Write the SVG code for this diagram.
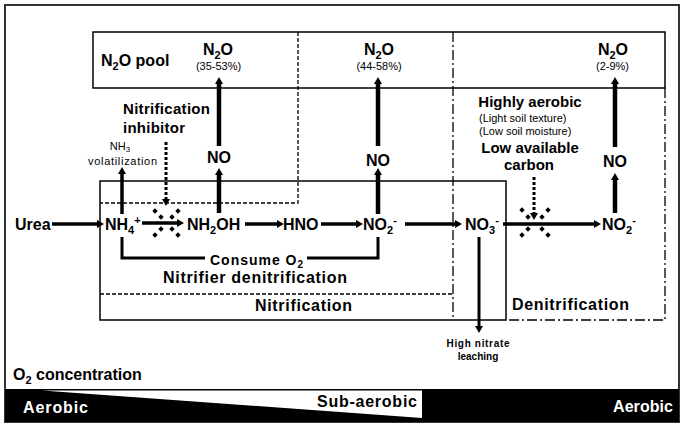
<svg xmlns="http://www.w3.org/2000/svg" width="685" height="428" viewBox="0 0 685 428">
<style>
text{font-family:"Liberation Sans",Arial,sans-serif;fill:#000}
.b16{font-size:16px;font-weight:bold}
.b15{font-size:15px;font-weight:bold}
.b14{font-size:14px;font-weight:bold}
.b10{font-size:10px;font-weight:bold}
.n11{font-size:11px}
.w{fill:#fff}
.box{fill:none;stroke:#000;stroke-width:1.5}
.dash{fill:none;stroke:#000;stroke-width:1.3;stroke-dasharray:4 2}
.dd{fill:none;stroke:#000;stroke-width:1.3;stroke-dasharray:10 3 2 3}
.ar{fill:none;stroke:#000;stroke-width:3.5;marker-end:url(#ah)}
.arv{fill:none;stroke:#000;stroke-width:4.5;marker-end:url(#ah)}
.dot{fill:none;stroke:#000;stroke-width:3;stroke-dasharray:3 2;marker-end:url(#ah)}
.ln{fill:none;stroke:#000;stroke-width:3}
</style>
<defs>
<marker id="ah" markerUnits="userSpaceOnUse" markerWidth="8" markerHeight="8" viewBox="0 0 7 8" refX="0" refY="4" orient="auto"><path d="M0,0 L7,4 L0,8 Z" fill="#000"/></marker>
<path id="dm" d="M0,-2.7 L2.7,0 L0,2.7 L-2.7,0 Z" fill="#000"/>
</defs>
<rect x="0" y="0" width="685" height="428" fill="#fff"/>
<rect x="5" y="5" width="674" height="417" fill="none" stroke="#333" stroke-width="2"/>

<g id="regions">
<rect x="93" y="32" width="572" height="56" class="box"/>
<rect x="100" y="181" width="406" height="139" class="box"/>
<path d="M298,32 V203 H100" class="dash"/>
<path d="M100,294 H453" class="dash"/>
<path d="M453,32 V320" class="dd"/>
<path d="M665,88 V320 H507" class="dd"/>
</g>

<g id="o2bar">
<rect x="5" y="389" width="674" height="33" fill="#000"/>
<polygon points="42,390.5 422,390.5 422,418" fill="#fff"/>
<text class="b16" x="13" y="380">O<tspan font-size="11" dy="4">2</tspan><tspan dy="-4"> concentration</tspan></text>
<text class="b16 w" x="23" y="413" textLength="65">Aerobic</text>
<text class="b16" x="317" y="407" textLength="100">Sub-aerobic</text>
<text class="b16 w" x="613" y="412" textLength="60">Aerobic</text>
</g>

<g id="labels">
<text class="b16" x="101" y="66">N<tspan font-size="11" dy="4">2</tspan><tspan dy="-4">O pool</tspan></text>
<text class="b16" x="163" y="283" textLength="184">Nitrifier denitrification</text>
<text class="b16" x="255" y="311" textLength="97">Nitrification</text>
<text class="b16" x="512" y="310" textLength="117">Denitrification</text>
</g>

<g id="connectors">
<path d="M52,224 H97" class="ar"/>
<path d="M142,223 H177" class="ar"/>
<path d="M245,224 H277" class="ar"/>
<path d="M321,224 H356" class="ar"/>
<path d="M405,224 H455" class="ar"/>
<path d="M503,224 H594" class="ar"/>
<path d="M122,214 V174" class="ar"/>
<path d="M219,213 V175" class="arv"/>
<path d="M219,146 V84" class="arv"/>
<path d="M378,214 V175" class="arv"/>
<path d="M378,146 V84" class="arv"/>
<path d="M615,213 V180" class="arv"/>
<path d="M615,147 V84" class="arv"/>
<path d="M479,237 V326" class="ar" style="stroke-width:3"/>
<path d="M166,142 V199" class="dot"/>
<path d="M534,177 V213" class="dot"/>
<path d="M122,237 V258 H205 M307,258 H378 V237" class="ln"/>
</g>

<g id="inhibit1">
<use href="#dm" x="155" y="211"/><use href="#dm" x="178" y="211"/>
<use href="#dm" x="161" y="217"/><use href="#dm" x="172" y="217"/>
<use href="#dm" x="161" y="229"/><use href="#dm" x="172" y="229"/>
<use href="#dm" x="155" y="235"/><use href="#dm" x="178" y="235"/>
</g>
<g id="inhibit2">
<use href="#dm" x="522" y="210"/><use href="#dm" x="548" y="210"/>
<use href="#dm" x="528" y="217"/><use href="#dm" x="542" y="217"/>
<use href="#dm" x="528" y="229"/><use href="#dm" x="542" y="229"/>
<use href="#dm" x="522" y="235"/><use href="#dm" x="548" y="235"/>
</g>

<g id="urea"><text class="b16" x="15" y="230">Urea</text></g>
<g id="nh4"><text class="b16" x="105" y="230">NH<tspan font-size="11" dy="4">4</tspan><tspan font-size="11" dy="-10">+</tspan></text></g>
<g id="nh2oh"><text class="b16" x="187" y="230">NH<tspan font-size="11" dy="4">2</tspan><tspan dy="-4">OH</tspan></text></g>
<g id="hno"><text class="b16" x="283" y="230">HNO</text></g>
<g id="no2a"><text class="b16" x="363" y="230">NO<tspan font-size="11" dy="4">2</tspan><tspan font-size="11" dy="-10">-</tspan></text></g>
<g id="no3"><text class="b16" x="465" y="230">NO<tspan font-size="11" dy="4">3</tspan><tspan font-size="11" dy="-10">-</tspan></text></g>
<g id="no2b"><text class="b16" x="602" y="230">NO<tspan font-size="11" dy="4">2</tspan><tspan font-size="11" dy="-10">-</tspan></text></g>

<g id="no1"><text class="b16" x="219" y="163" text-anchor="middle">NO</text></g>
<g id="no2"><text class="b16" x="378" y="166" text-anchor="middle">NO</text></g>
<g id="no3n"><text class="b16" x="615" y="167" text-anchor="middle">NO</text></g>

<g id="n2o1"><text class="b16" x="218" y="55" text-anchor="middle">N<tspan font-size="11" dy="4">2</tspan><tspan dy="-4">O</tspan></text>
<text class="n11" x="218.5" y="70" text-anchor="middle">(35-53%)</text></g>
<g id="n2o2"><text class="b16" x="379" y="55" text-anchor="middle">N<tspan font-size="11" dy="4">2</tspan><tspan dy="-4">O</tspan></text>
<text class="n11" x="379" y="70" text-anchor="middle">(44-58%)</text></g>
<g id="n2o3"><text class="b16" x="613" y="55" text-anchor="middle">N<tspan font-size="11" dy="4">2</tspan><tspan dy="-4">O</tspan></text>
<text class="n11" x="612.5" y="70" text-anchor="middle">(2-9%)</text></g>

<g id="nh3vol">
<text class="n11" x="120" y="150" text-anchor="middle">NH<tspan font-size="8" dy="2">3</tspan></text>
<text class="n11" x="88" y="165" textLength="69">volatilization</text>
</g>
<g id="inhibitor">
<text class="b15" x="123" y="114" textLength="87">Nitrification</text>
<text class="b15" x="123" y="133" textLength="62">inhibitor</text>
</g>
<g id="conditions">
<text class="b15" x="530" y="107" text-anchor="middle">Highly aerobic</text>
<text class="n11" x="479" y="122">(Light soil texture)</text>
<text class="n11" x="479" y="135">(Low soil moisture)</text>
<text class="b15" x="530" y="153" text-anchor="middle">Low available</text>
<text class="b15" x="529" y="170" text-anchor="middle">carbon</text>
</g>
<g id="consume"><text class="b14" x="210" y="265" textLength="93">Consume O<tspan font-size="10" dy="3">2</tspan></text></g>
<g id="leaching">
<text class="b10" x="478" y="347" text-anchor="middle" textLength="63">High nitrate</text>
<text class="b10" x="478" y="360" text-anchor="middle">leaching</text>
</g>
</svg>
